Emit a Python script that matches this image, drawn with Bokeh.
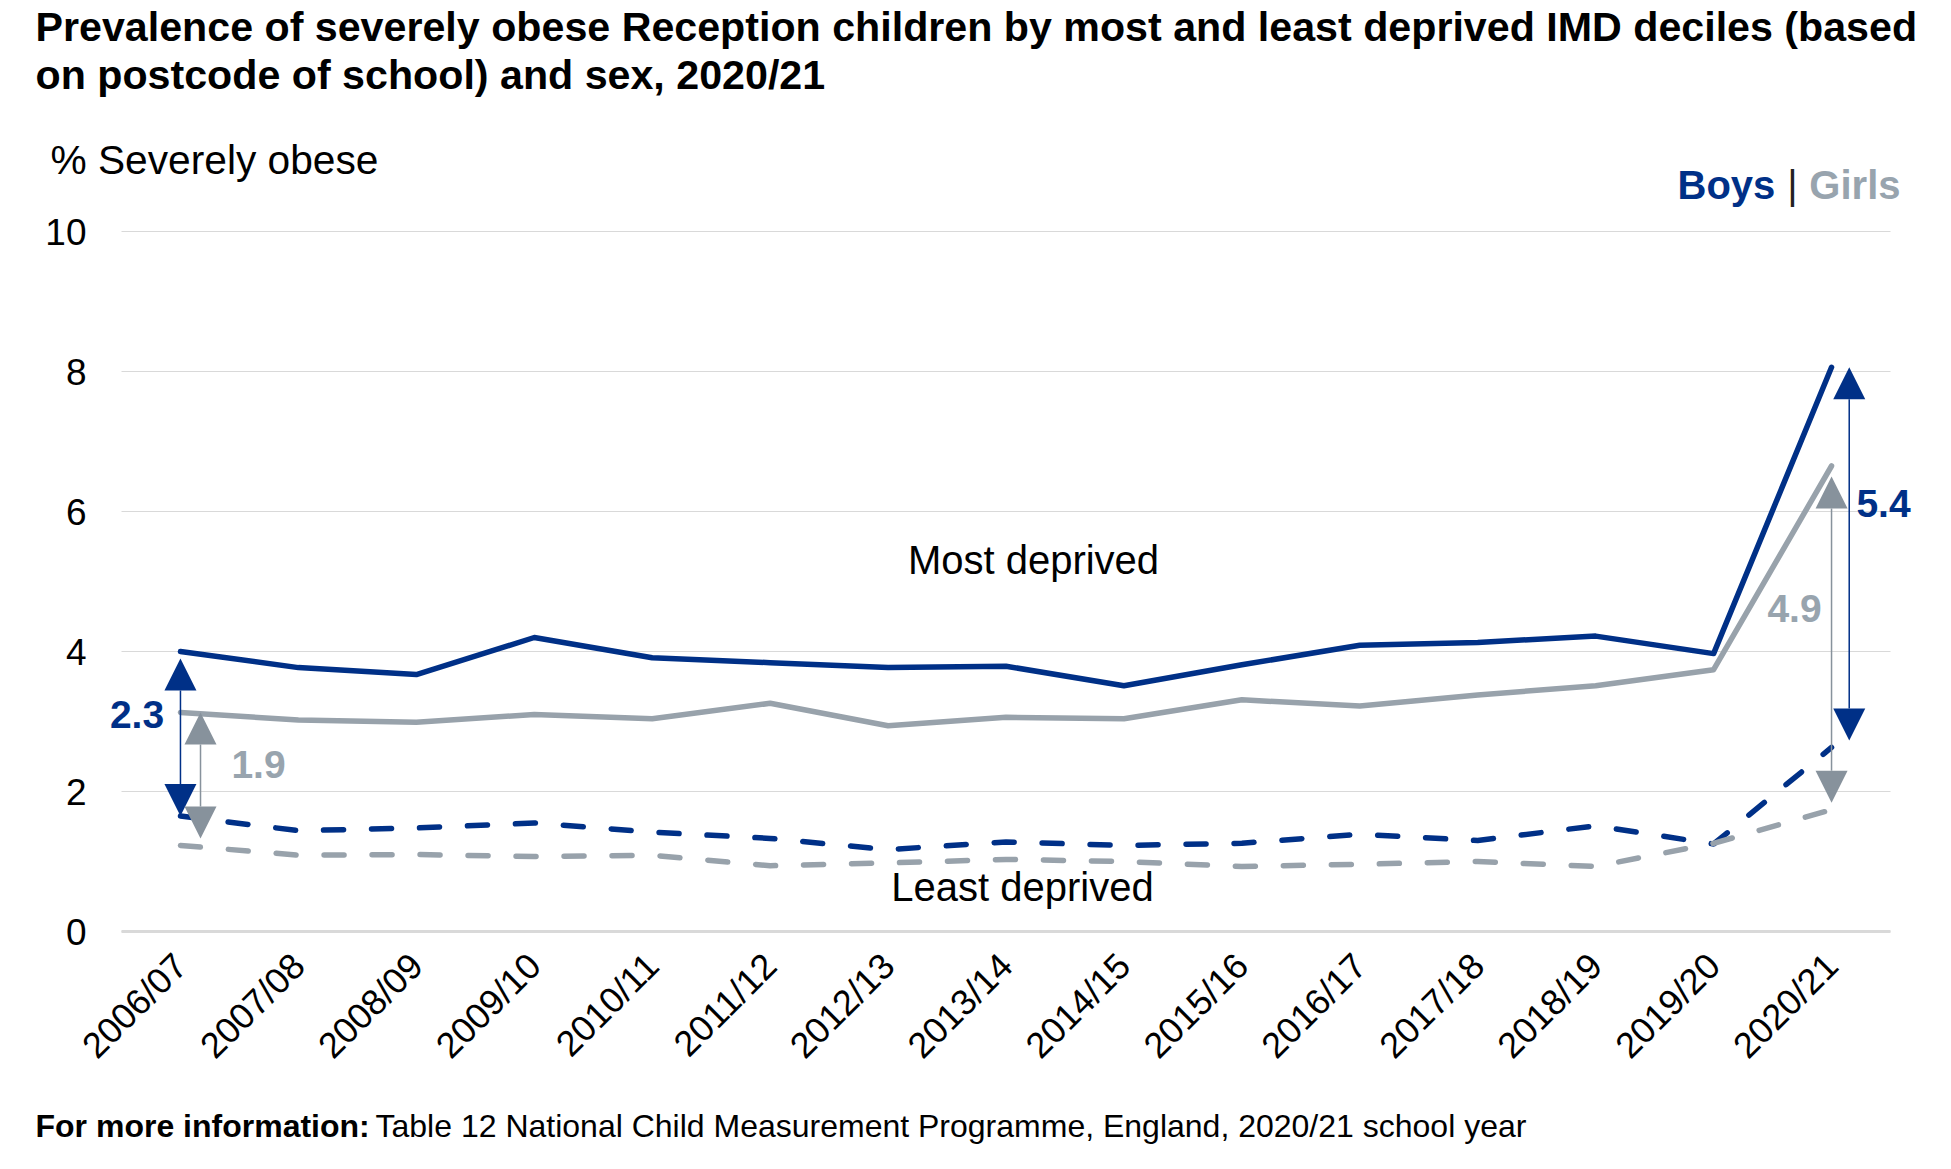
import math
from bokeh.plotting import figure
from bokeh.models import (Range1d, FixedTicker, Label, Arrow, NormalHead)
from bokeh.embed import file_html
from bokeh.resources import INLINE

# ---------------- data ----------------
years = ["2006/07", "2007/08", "2008/09", "2009/10", "2010/11", "2011/12", "2012/13",
         "2013/14", "2014/15", "2015/16", "2016/17", "2017/18", "2018/19", "2019/20", "2020/21"]
boys_most = [4.00, 3.77, 3.67, 4.20, 3.91, 3.84, 3.77, 3.79, 3.51, 3.81, 4.09, 4.13, 4.22, 3.97, 8.06]
girls_most = [3.13, 3.02, 2.99, 3.10, 3.04, 3.26, 2.94, 3.06, 3.04, 3.31, 3.22, 3.38, 3.51, 3.74, 6.65]
boys_least = [1.65, 1.44, 1.48, 1.55, 1.42, 1.33, 1.17, 1.28, 1.23, 1.26, 1.39, 1.30, 1.51, 1.25, 2.63]
girls_least = [1.23, 1.09, 1.10, 1.07, 1.09, 0.94, 0.98, 1.03, 1.00, 0.93, 0.96, 1.00, 0.93, 1.26, 1.74]
y_ticks = [0, 2, 4, 6, 8, 10]
gap_labels = {"boys_first": "2.3", "girls_first": "1.9", "boys_last": "5.4", "girls_last": "4.9"}

title_lines = ["Prevalence of severely obese Reception children by most and least deprived IMD deciles (based",
               "on postcode of school) and sex, 2020/21"]
y_title = "% Severely obese"
footnote_bold = "For more information:"
footnote_text = "Table 12 National Child Measurement Programme, England, 2020/21 school year"

# ---------------- styles / layout ----------------
NAVY = "#003087"
GREY_LINE = "#98A2AB"
GREY_ARROW = "#87929C"
GREY_TEXT = "#98A4AE"
GRID = "#D9D9D9"
FONT = "Liberation Sans"
DY = 0.20  # baseline correction (data units)

W, H = 1951, 1169
PLOT_L, PLOT_R, PLOT_T, PLOT_B = 121, 1890, 231, 931   # plot area in pixels
n = len(years)
ux = (PLOT_R - PLOT_L) / n          # px per category
uy = (PLOT_B - PLOT_T) / 10.0       # px per unit
x_lo, x_hi = -0.5, n - 0.5

idx = list(range(n))

p = figure(width=W, height=H,
           x_range=Range1d(x_lo - PLOT_L / ux, x_hi + (W - PLOT_R) / ux),
           y_range=Range1d(-(H - PLOT_B) / uy, PLOT_B / uy),
           output_backend="svg", toolbar_location=None,
           min_border=0, min_border_left=0, min_border_right=0,
           min_border_top=0, min_border_bottom=0)
p.outline_line_color = None
p.background_fill_color = "white"
p.border_fill_color = "white"
p.xgrid.grid_line_color = None
p.ygrid.grid_line_color = None

# horizontal gridlines (only across the plot area)
p.segment(x0=[x_lo] * len(y_ticks), x1=[x_hi] * len(y_ticks), y0=y_ticks, y1=y_ticks,
          line_color=GRID, line_width=1)

# axes
p.yaxis.fixed_location = x_lo
p.yaxis.ticker = FixedTicker(ticks=y_ticks)
p.yaxis.axis_line_color = None
p.yaxis.major_tick_line_color = None
p.yaxis.minor_tick_line_color = None
p.yaxis.major_label_text_font = FONT
p.yaxis.major_label_text_font_size = "37px"
p.yaxis.major_label_text_color = "black"
p.yaxis.major_label_standoff = 29

p.xaxis.fixed_location = 0
p.xaxis.bounds = (x_lo, x_hi)
p.xaxis.ticker = FixedTicker(ticks=idx)
p.xaxis.major_label_overrides = {i: y for i, y in zip(idx, years)}
p.xaxis.major_label_orientation = math.pi / 4
p.xaxis.axis_line_color = GRID
p.xaxis.axis_line_width = 3
p.xaxis.major_tick_line_color = None
p.xaxis.minor_tick_line_color = None
p.xaxis.major_label_text_font = FONT
p.xaxis.major_label_text_font_size = "36px"
p.xaxis.major_label_text_color = "black"
p.xaxis.major_label_standoff = 22

# lines
p.line(idx, boys_most, line_color=NAVY, line_width=5.5, line_join="round", line_cap="round")
p.line(idx, girls_most, line_color=GREY_LINE, line_width=5.5, line_join="round", line_cap="round")
p.line(idx, boys_least, line_color=NAVY, line_width=5.5, line_dash="20 28", line_cap="round")
p.line(idx, girls_least, line_color=GREY_LINE, line_width=5.5, line_dash="20 28", line_cap="round")

# gap arrows
def gap_arrow(x, lo, hi, color):
    p.add_layout(Arrow(x_start=x, y_start=lo, x_end=x, y_end=hi,
                       line_color=color, line_width=1.5,
                       start=NormalHead(size=32, fill_color=color, line_color=color, line_width=0),
                       end=NormalHead(size=32, fill_color=color, line_color=color, line_width=0)))

first, last = 0, n - 1
gap_arrow(idx[first], boys_least[first], boys_most[first] - 0.1, NAVY)
gap_arrow(idx[first] + 0.17, girls_least[first] + 0.1, girls_most[first], GREY_ARROW)
gap_arrow(idx[last] + 0.15, boys_least[last] + 0.1, boys_most[last], NAVY)
gap_arrow(idx[last], girls_least[last] + 0.1, girls_most[last] - 0.15, GREY_ARROW)

def px_x(X):
    return x_lo + (X - PLOT_L) / ux

def px_y(Y):
    return (PLOT_B - Y) / uy

def lab(X, Y, text, size, color="black", bold=False, align="left"):
    """Place a text with its alphabetic baseline at pixel position (X, Y)."""
    p.add_layout(Label(x=px_x(X), y=px_y(Y) + DY, text=text, text_font=FONT, text_font_size=size,
                       text_color=color, text_font_style="bold" if bold else "normal",
                       text_align=align, text_baseline="alphabetic"))

# gap labels
lab(136.5, 728, gap_labels["boys_first"], "39px", NAVY, True, "center")
lab(258, 778, gap_labels["girls_first"], "39px", GREY_TEXT, True, "center")
lab(1883, 517, gap_labels["boys_last"], "39px", NAVY, True, "center")
lab(1794, 622, gap_labels["girls_last"], "39px", GREY_TEXT, True, "center")

# series labels
lab(1033, 573, "Most deprived", "40px", "black", False, "center")
lab(1022, 900, "Least deprived", "40px", "black", False, "center")

# title and other texts
lab(35, 40, title_lines[0], "41.2px", "black", True)
lab(35, 88, title_lines[1], "41.2px", "black", True)
lab(50, 173, y_title, "40.7px")
lab(1677, 198, "Boys", "40px", NAVY, True)
lab(1792, 198, "|", "40px", "#222222", False, "center")
lab(1900, 198, "Girls", "40px", GREY_TEXT, True, "right")
lab(35, 1139, footnote_bold, "32px", "black", True)
lab(375, 1139, footnote_text, "32px", "black", False)

open("out.html", "w").write(file_html(p, INLINE))
